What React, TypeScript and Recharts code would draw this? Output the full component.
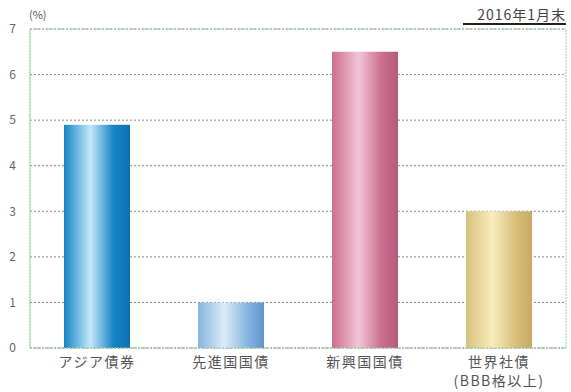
import React from 'react';
import { Bar, BarChart, CartesianGrid, Cell, XAxis, YAxis } from 'recharts';

const categories = ['アジア債券', '先進国国債', '新興国国債', '世界社債\n(BBB格以上)'];
const yieldValues = [4.9, 1.0, 6.5, 3.0];
const yTicks = [0, 1, 2, 3, 4, 5, 6, 7];

const barGradients = [
  { id: 'gAsia', edge: '#1684c6', mid: '#c4e8f8', dark: '#0f6fae' },
  { id: 'gDev', edge: '#86b4e0', mid: '#dcecf8', dark: '#5f94cc' },
  { id: 'gEm', edge: '#c9708f', mid: '#f4c4d6', dark: '#b45a7c' },
  { id: 'gCorp', edge: '#d8c07c', mid: '#f8ecbc', dark: '#c8aa64' }
];

const data = categories.map((name, i) => ({ name, value: yieldValues[i] }));

const font = '"Noto Sans CJK JP", "Noto Sans", sans-serif';

const XTick = (props: any) => {
  const { x, y, payload } = props;
  const lines = String(payload.value).split('\n');
  return (
    <g transform={`translate(${x},${y})`}>
      {lines.map((line: string, i: number) => (
        <text
          key={i}
          x={0}
          y={11 + i * 19}
          textAnchor="middle"
          fill="#555"
          fontSize={14}
          letterSpacing={1.5}
          fontFamily={font}
        >
          {line}
        </text>
      ))}
    </g>
  );
};

const App: React.FC = () => {
  return (
    <div style={{ position: 'absolute', left: 0, top: 0, width: 571, height: 392, background: '#fff' }}>
      <BarChart
        width={571}
        height={392}
        data={data}
        margin={{ top: 29, right: 5, bottom: 0, left: 0 }}
        barCategoryGap={34}
      >
        <defs>
          {barGradients.map((g) => (
            <linearGradient key={g.id} id={g.id} x1="0" y1="0" x2="1" y2="0">
              <stop offset="0%" stopColor={g.edge} />
              <stop offset="40%" stopColor={g.mid} />
              <stop offset="75%" stopColor={g.edge} />
              <stop offset="100%" stopColor={g.dark} />
            </linearGradient>
          ))}
        </defs>
        <rect x={30} y={29} width={536} height={319} fill="none" stroke="#9ccf9c" strokeDasharray="2 1" />
        <CartesianGrid vertical={false} stroke="#8a8a8a" strokeDasharray="2 2" />
        <XAxis
          dataKey="name"
          height={44}
          tick={<XTick />}
          tickLine={false}
          axisLine={{ stroke: '#9ccf9c', strokeDasharray: '2 1' }}
          interval={0}
        />
        <YAxis
          width={30}
          domain={[0, 7]}
          ticks={yTicks}
          tickLine={false}
          axisLine={{ stroke: '#9ccf9c', strokeDasharray: '2 1' }}
          tick={{ fontSize: 12, fill: '#666', fontFamily: font }}
          tickMargin={8}
        />
        <Bar dataKey="value" barSize={66} isAnimationActive={false}>
          {data.map((d, i) => (
            <Cell key={d.name} fill={`url(#${barGradients[i].id})`} />
          ))}
        </Bar>
        <text x={29} y={19} fontSize={11} fill="#555" fontFamily={font}>(%)</text>
        <text x={566} y={20} textAnchor="end" fontSize={14} letterSpacing={1} fill="#444" fontFamily={font}>2016年1月末</text>
        <line x1={463} y1={24} x2={566} y2={24} stroke="#222" strokeWidth={2} />
      </BarChart>
    </div>
  );
};

export default App;
